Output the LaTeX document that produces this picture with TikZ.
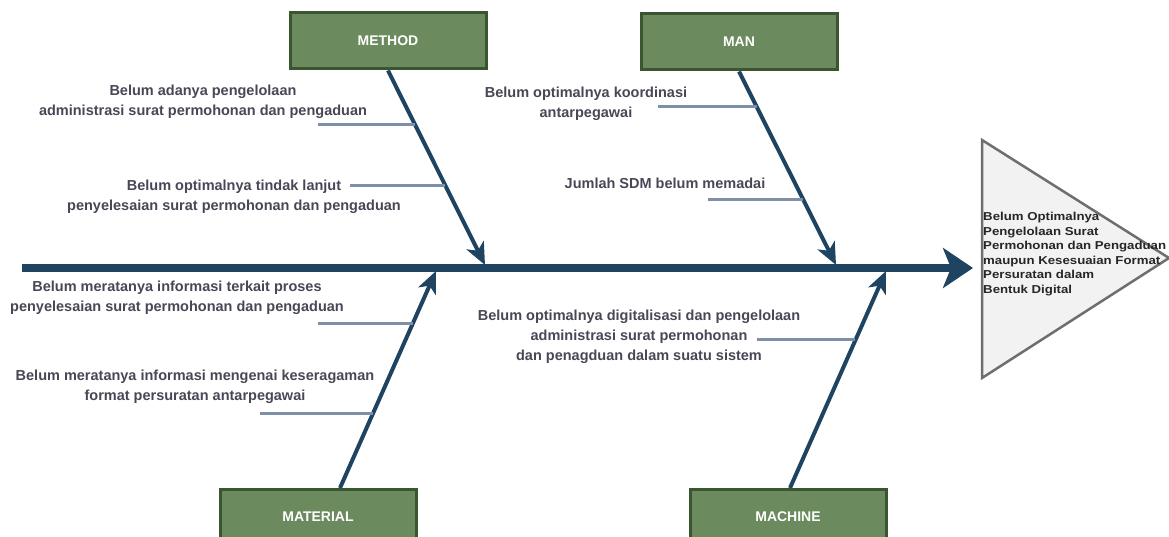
\documentclass[tikz,border=0pt]{standalone}
\usepackage{fontspec}
\setmainfont{Liberation Sans}
\newfontfamily\headfont[FakeStretch=1.15]{Liberation Sans}
\usetikzlibrary{arrows.meta}

\definecolor{boxgreen}{HTML}{6B8A5E}
\definecolor{boxedge}{HTML}{3A5530}
\definecolor{bonenavy}{HTML}{1F4462}
\definecolor{ribgray}{HTML}{7D90A8}
\definecolor{txtgray}{HTML}{474756}
\definecolor{headfill}{HTML}{F2F2F2}
\definecolor{headedge}{HTML}{6E6E6E}
\definecolor{headtxt}{HTML}{262626}

\tikzset{
  category/.style={draw=boxedge, fill=boxgreen, line width=3pt, minimum width=196pt,
    minimum height=56pt, text=white, font=\bfseries\fontsize{14}{16}\selectfont},
  cause/.style={align=center, text=txtgray, inner sep=0pt, font=\bfseries\fontsize{14.5}{20}\selectfont},
  bone/.style={draw=bonenavy, line width=4pt, -{Stealth[length=22pt,width=19pt,inset=6pt]}},
  rib/.style={draw=ribgray, line width=3pt},
}

\begin{document}
\begin{tikzpicture}[x=1pt,y=-1pt]
\useasboundingbox (0,0) rectangle (1169,537);

% head of the fish
\draw[draw=headedge, fill=headfill, line width=2.5pt]
  (982,140) -- (1169,258) -- (982,378) -- cycle;
\node (effect) at (983,254) [anchor=west, align=left, inner sep=0pt, text=headtxt,
  font=\headfont\bfseries\fontsize{11.5}{14.6}\selectfont]
  {Belum Optimalnya\\Pengelolaan Surat\\Permohonan dan Pengaduan\\maupun Kesesuaian Format\\Persuratan dalam\\Bentuk Digital};

% categories
\node (method) at (388,41) [category] {METHOD};
\node (man) at (739,42) [category] {MAN};
\node (material) at (318,517) [category] {MATERIAL};
\node (machine) at (788,517) [category] {MACHINE};

% spine
\coordinate (tail) at (22,268);
\coordinate (tip) at (973,268);
\draw[draw=bonenavy, line width=7pt, -{Stealth[length=30pt,width=40pt,inset=8pt]}] (tail) -- (tip);

% bones
\coordinate (m0) at (485,265);
\coordinate (n0) at (836,265);
\coordinate (t0) at (436,271);
\coordinate (c0) at (886,271);
\draw[bone] (method.south) -- (m0);
\draw[bone] (man.south) -- (n0);
\draw[bone] (340,488) -- (t0);
\draw[bone] (790,488) -- (c0);

% causes
\node (m1) at (203,102) [cause] {Belum adanya pengelolaan\\administrasi surat permohonan dan pengaduan};
\node (m2) at (234,197) [cause] {Belum optimalnya tindak lanjut\\penyelesaian surat permohonan dan pengaduan};
\node (n1) at (586,104) [cause] {Belum optimalnya koordinasi\\antarpegawai};
\node (n2) at (665,183) [cause] {Jumlah SDM belum memadai};
\node (t1) at (177,298) [cause] {Belum meratanya informasi terkait proses\\penyelesaian surat permohonan dan pengaduan};
\node (t2) at (195,387) [cause] {Belum meratanya informasi mengenai keseragaman\\format persuratan antarpegawai};
\node (c1) at (639,337) [cause] {Belum optimalnya digitalisasi dan pengelolaan\\administrasi surat permohonan\\dan penagduan dalam suatu sistem};

% ribs
\coordinate (m1a) at (318,125);
\coordinate (m2a) at (350,186);
\coordinate (n1a) at (658,107);
\coordinate (n2a) at (708,200);
\coordinate (t1a) at (318,323);
\coordinate (t2a) at (260,413);
\coordinate (c1a) at (757,339);
\draw[rib]
(m1a) -- (415,125)
(m2a) -- (445,186)
(n1a) -- (757,107)
(n2a) -- (803,200)
(t1a) -- (413,323)
(t2a) -- (373,413)
(c1a) -- (855,339);
\end{tikzpicture}
\end{document}
